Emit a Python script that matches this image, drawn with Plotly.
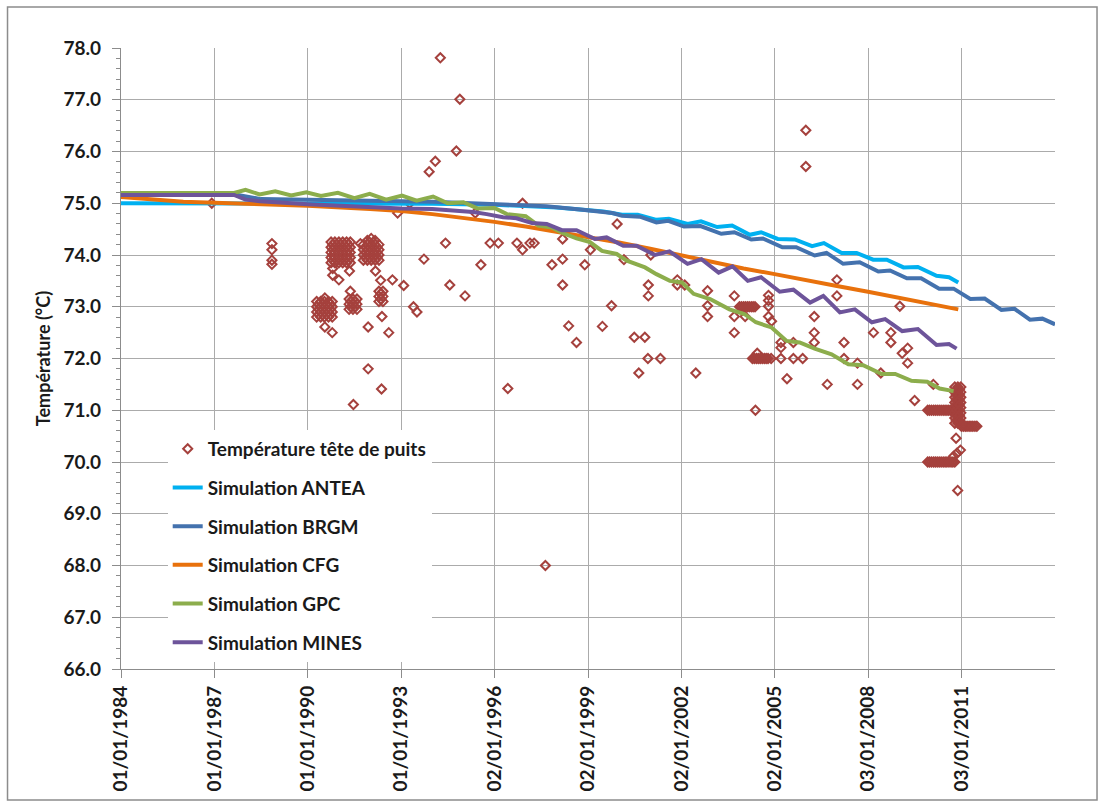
import plotly.graph_objects as go

# ---------------- DATA ----------------
tick_dates = ["1984-01-01", "1987-01-01", "1990-01-01", "1993-01-01", "1996-01-02",
              "1999-01-02", "2002-01-02", "2005-01-02", "2008-01-03", "2011-01-03"]
tick_labels = ["01/01/1984", "01/01/1987", "01/01/1990", "01/01/1993", "02/01/1996",
               "02/01/1999", "02/01/2002", "02/01/2005", "03/01/2008", "03/01/2011"]
y_ticks = [66, 67, 68, 69, 70, 71, 72, 73, 74, 75, 76, 77, 78]

antea_dates = ["1984-01-01", "1992-01-01", "1994-01-01", "1996-01-01", "1998-01-01", "1999-07-01",
               "2000-02-05", "2000-08-08", "2001-03-15", "2001-08-08", "2002-03-15", "2002-08-20",
               "2003-02-25", "2003-08-20", "2004-03-15", "2004-07-25", "2005-02-05", "2005-08-25",
               "2006-03-15", "2006-08-01", "2007-02-25", "2007-08-20", "2008-03-01", "2008-08-08",
               "2009-02-20", "2009-08-08", "2010-03-15", "2010-08-08", "2010-11-25"]
antea_vals = [75.0, 75.0, 74.99, 74.97, 74.92, 74.84,
              74.78, 74.78, 74.68, 74.70, 74.60, 74.65,
              74.54, 74.57, 74.39, 74.44, 74.31, 74.30,
              74.17, 74.23, 74.04, 74.04, 73.91, 73.91,
              73.76, 73.77, 73.60, 73.57, 73.47]

brgm_dates = ["1984-01-01", "1987-08-01", "1988-07-01", "1990-01-01", "1992-01-01", "1994-01-01",
              "1996-01-01", "1997-09-01", "1998-10-01", "1999-04-15", "1999-10-15", "2000-02-05",
              "2000-09-01", "2001-03-15", "2001-08-01", "2002-02-01", "2002-08-15", "2003-04-15",
              "2003-09-15", "2004-04-01", "2004-08-15", "2005-04-01", "2005-09-10", "2006-04-15",
              "2006-09-01", "2007-03-15", "2007-09-25", "2008-05-01", "2008-09-15", "2009-04-01",
              "2009-09-15", "2010-04-15", "2010-10-01", "2011-04-15", "2011-10-01", "2012-04-15",
              "2012-09-15", "2013-03-15", "2013-08-08", "2014-01-04"]
brgm_vals = [75.18, 75.18, 75.08, 75.06, 75.05, 75.03,
             74.99, 74.94, 74.88, 74.84, 74.81, 74.76,
             74.74, 74.63, 74.66, 74.55, 74.56, 74.41,
             74.44, 74.30, 74.32, 74.15, 74.15, 73.99,
             74.04, 73.83, 73.86, 73.68, 73.70, 73.55,
             73.55, 73.35, 73.35, 73.15, 73.16, 72.94,
             72.96, 72.75, 72.77, 72.66]

cfg_dates = ["1984-01-01", "1986-01-01", "1988-01-01", "1990-01-01", "1992-01-01", "1993-01-01",
             "1994-01-01", "1995-01-01", "1996-01-01", "1997-01-01", "1998-01-01", "1999-01-01",
             "2000-01-01", "2001-01-01", "2002-01-01", "2003-01-01", "2004-01-01", "2005-01-01",
             "2006-01-01", "2007-01-01", "2008-01-01", "2009-01-01", "2010-01-01", "2010-11-25"]
cfg_vals = [75.12, 75.03, 74.99, 74.95, 74.89, 74.85,
            74.79, 74.72, 74.64, 74.55, 74.45, 74.35,
            74.24, 74.12, 73.99, 73.86, 73.74, 73.63,
            73.51, 73.40, 73.29, 73.17, 73.05, 72.95]

gpc_dates = ["1984-01-01", "1987-08-20", "1988-01-01", "1988-06-15", "1988-12-15", "1989-06-20",
             "1989-12-15", "1990-06-05", "1990-12-20", "1991-07-01", "1991-12-28", "1992-07-08",
             "1993-01-10", "1993-07-01", "1994-01-10", "1994-07-01", "1995-01-01", "1995-06-15",
             "1996-01-01", "1996-05-25", "1997-01-01", "1997-05-30", "1997-11-01", "1998-03-15",
             "1998-08-20", "1999-01-25", "1999-06-15", "1999-12-05", "2000-04-01", "2000-11-01",
             "2001-03-15", "2001-08-20", "2002-01-08", "2002-05-25", "2002-12-05", "2003-07-20",
             "2004-01-10", "2004-05-25", "2004-11-25", "2005-05-20", "2005-10-20", "2006-04-15",
             "2006-10-30", "2007-05-15", "2007-11-05", "2008-06-10", "2008-11-15", "2009-05-25",
             "2009-11-25", "2010-04-20", "2010-10-01"]
gpc_vals = [75.20, 75.20, 75.26, 75.17, 75.23, 75.15,
            75.21, 75.14, 75.20, 75.10, 75.18, 75.07,
            75.15, 75.05, 75.13, 75.00, 75.02, 74.90,
            74.91, 74.79, 74.75, 74.57, 74.53, 74.42,
            74.32, 74.25, 74.08, 74.02, 73.89, 73.76,
            73.63, 73.50, 73.47, 73.25, 73.15, 72.95,
            72.86, 72.70, 72.60, 72.34, 72.31, 72.19,
            72.08, 71.89, 71.87, 71.70, 71.70, 71.57,
            71.55, 71.42, 71.37]

mines_dates = ["1984-01-01", "1987-08-20", "1988-01-01", "1988-06-15", "1990-01-01", "1991-06-15",
               "1993-01-01", "1994-01-01", "1994-10-10", "1995-04-25", "1995-10-01", "1996-04-10",
               "1996-09-15", "1997-03-15", "1997-09-05", "1998-03-01", "1998-08-20", "1999-03-25",
               "1999-08-08", "2000-02-20", "2000-07-25", "2001-02-25", "2001-08-15", "2002-03-15",
               "2002-08-25", "2003-03-15", "2003-08-25", "2004-02-20", "2004-07-25", "2005-03-01",
               "2005-08-08", "2006-02-20", "2006-07-25", "2007-02-05", "2007-07-30", "2008-02-15",
               "2008-07-20", "2009-02-05", "2009-08-08", "2010-03-15", "2010-08-08", "2010-11-05"]
mines_vals = [75.16, 75.16, 75.07, 75.04, 74.98, 74.94,
              74.90, 74.89, 74.86, 74.83, 74.79, 74.73,
              74.71, 74.62, 74.60, 74.48, 74.48, 74.31,
              74.34, 74.18, 74.18, 74.00, 74.07, 73.83,
              73.92, 73.66, 73.78, 73.50, 73.57, 73.29,
              73.33, 73.08, 73.21, 72.89, 72.95, 72.70,
              72.76, 72.53, 72.57, 72.26, 72.28, 72.19]

# Measured wellhead temperatures (dense groups listed point by point)
obs_dates = [
    "1986-12-01",
    "1988-11-06", "1988-11-06", "1988-11-06", "1988-11-06",
    # group 1990-10 .. 1991-05 around 74
    "1990-10-01", "1990-10-01", "1990-10-01", "1990-10-01", "1990-10-01",
    "1990-11-15", "1990-11-15", "1990-11-15", "1990-11-15", "1990-11-15",
    "1991-01-01", "1991-01-01", "1991-01-01", "1991-01-01", "1991-01-01",
    "1991-02-15", "1991-02-15", "1991-02-15", "1991-02-15", "1991-02-15",
    "1991-04-01", "1991-04-01", "1991-04-01", "1991-04-01", "1991-04-01",
    "1991-05-15", "1991-05-15", "1991-05-15", "1991-05-15", "1991-05-15",
    "1990-10-22", "1990-10-22", "1990-10-22", "1990-10-22",
    "1990-12-08", "1990-12-08", "1990-12-08", "1990-12-08",
    "1991-01-23", "1991-01-23", "1991-01-23", "1991-01-23",
    "1991-03-08", "1991-03-08", "1991-03-08", "1991-03-08",
    "1991-04-23", "1991-04-23", "1991-04-23", "1991-04-23",
    "1990-10-20", "1990-10-20", "1991-01-01", "1991-05-05", "1991-05-15",
    # group 1990 around 73
    "1990-04-15", "1990-04-15", "1990-04-15", "1990-04-15",
    "1990-06-01", "1990-06-01", "1990-06-01", "1990-06-01",
    "1990-07-15", "1990-07-15", "1990-07-15", "1990-07-15",
    "1990-09-01", "1990-09-01", "1990-09-01", "1990-09-01",
    "1990-10-15", "1990-10-15", "1990-10-15", "1990-10-15",
    "1990-05-08", "1990-05-08", "1990-05-08",
    "1990-06-23", "1990-06-23", "1990-06-23",
    "1990-08-08", "1990-08-08", "1990-08-08",
    "1990-09-23", "1990-09-23", "1990-09-23",
    "1990-07-20", "1990-07-20", "1990-10-15",
    # group 1991 around 73
    "1991-05-01", "1991-05-01", "1991-05-01",
    "1991-06-15", "1991-06-15", "1991-06-15",
    "1991-08-01", "1991-08-01", "1991-08-01",
    "1991-05-23", "1991-05-23", "1991-07-08", "1991-07-08",
    # group 1991-10 .. 1992-04 around 74
    "1991-10-15", "1991-10-15", "1991-10-15", "1991-10-15",
    "1991-12-01", "1991-12-01", "1991-12-01", "1991-12-01",
    "1992-01-15", "1992-01-15", "1992-01-15", "1992-01-15",
    "1992-03-01", "1992-03-01", "1992-03-01", "1992-03-01",
    "1992-04-15", "1992-04-15", "1992-04-15", "1992-04-15",
    "1991-11-08", "1991-11-08", "1991-11-08",
    "1991-12-23", "1991-12-23", "1991-12-23", "1991-12-23",
    "1992-02-08", "1992-02-08", "1992-02-08", "1992-02-08",
    "1992-03-23", "1992-03-23", "1992-03-23",
    "1992-01-15", "1991-12-01", "1992-03-01",
    "1991-09-10", "1992-03-05", "1992-05-05", "1992-09-20", "1993-01-30",
    # group 1992 around 73.2
    "1992-04-15", "1992-04-15", "1992-04-15",
    "1992-06-01", "1992-06-01", "1992-06-01",
    "1992-05-08", "1992-05-08",
    "1992-05-20", "1991-12-10", "1992-08-08", "1991-12-10", "1992-05-15", "1991-06-20",
    "1993-05-25", "1993-07-05",
    "1994-04-05", "1994-11-20", "1994-10-10", "1994-02-05", "1993-11-25", "1993-04-10",
    "1992-11-20", "1995-05-20", "1996-11-25", "1994-06-05", "1993-09-25", "1995-07-25",
    "1995-11-10", "1996-02-15", "1996-09-20", "1996-11-25", "1997-02-20", "1997-04-10",
    "1998-03-10", "1998-03-10", "1997-11-05", "1998-03-10", "1998-11-25", "1999-01-30",
    "1994-07-25", "1995-01-20", "1998-05-20", "1996-06-05", "1998-08-20", "1999-12-10",
    "1999-10-05", "1999-06-20", "2000-02-28", "2000-06-28", "2000-10-30", "2000-08-20",
    "2000-12-05", "2001-05-01", "2001-01-08", "2000-12-10", "2000-12-10", "2001-11-15",
    "2001-11-15", "2002-02-10", "1997-08-20", "2002-06-20", "2002-11-05", "2002-11-05",
    "2002-11-05", "2006-01-01", "2006-01-01", "2003-09-15", "2003-09-15", "2003-09-15",
    "2004-01-20",
    "2003-11-15", "2003-12-08", "2004-01-01", "2004-01-23", "2004-02-15", "2004-03-08",
    "2004-04-01", "2004-04-23", "2004-05-15",
    "2004-10-20", "2004-10-20", "2004-10-20", "2004-10-20", "2004-11-25",
    "2004-04-15", "2004-05-08", "2004-06-01", "2004-06-23", "2004-07-15", "2004-08-08",
    "2004-09-01", "2004-09-23", "2004-10-15", "2004-11-20",
    "2004-06-10", "2004-05-20",
    "2005-03-15", "2005-03-15", "2005-03-15", "2005-08-08", "2005-08-08", "2005-11-25",
    "2005-05-25", "2006-04-10", "2006-04-10", "2006-04-10", "2006-09-10", "2007-01-01",
    "2007-01-01", "2007-03-25", "2007-03-25", "2007-08-30", "2007-08-30", "2008-05-30",
    "2008-03-05", "2008-09-25", "2008-09-25", "2009-01-08", "2009-02-05", "2009-04-10",
    "2009-04-10", "2009-07-01", "2010-02-05",
    # 71.0 group
    "2009-12-01", "2009-12-23", "2010-01-15", "2010-02-08", "2010-03-01", "2010-03-23",
    "2010-04-15", "2010-05-08", "2010-06-01", "2010-06-23", "2010-07-15", "2010-08-05", "2010-08-25",
    # 70.0 group
    "2009-12-01", "2009-12-23", "2010-01-15", "2010-02-08", "2010-03-01", "2010-03-23",
    "2010-04-15", "2010-05-08", "2010-06-01", "2010-06-23", "2010-07-15", "2010-08-08",
    "2010-09-01", "2010-09-23", "2010-10-15",
    # late 2010 vertical group
    "2010-10-15", "2010-10-15", "2010-10-15", "2010-10-15", "2010-10-15", "2010-10-15", "2010-10-15", "2010-10-15",
    "2010-11-20", "2010-11-20", "2010-11-20", "2010-11-20", "2010-11-20", "2010-11-20", "2010-11-20", "2010-11-20",
    "2010-12-25", "2010-12-25", "2010-12-25", "2010-12-25", "2010-12-25", "2010-12-25", "2010-12-25", "2010-12-25",
    "2010-11-02", "2010-11-02", "2010-11-02", "2010-11-02", "2010-11-02", "2010-11-02", "2010-11-02",
    "2010-12-08", "2010-12-08", "2010-12-08", "2010-12-08", "2010-12-08", "2010-12-08", "2010-12-08",
    # 70.7 group
    "2011-01-01", "2011-01-23", "2011-02-15", "2011-03-08", "2011-04-01", "2011-04-23",
    "2011-05-15", "2011-06-08", "2011-07-01",
    "2010-10-30", "2010-10-01", "2010-11-10", "2010-12-20", "2010-11-18",
]
obs_vals = [
    75.0,
    74.22, 74.10, 73.90, 73.82,
    74.25, 74.15, 74.05, 73.95, 73.85,
    74.25, 74.15, 74.05, 73.95, 73.85,
    74.25, 74.15, 74.05, 73.95, 73.85,
    74.25, 74.15, 74.05, 73.95, 73.85,
    74.25, 74.15, 74.05, 73.95, 73.85,
    74.25, 74.15, 74.05, 73.95, 73.85,
    74.20, 74.10, 74.00, 73.90,
    74.20, 74.10, 74.00, 73.90,
    74.20, 74.10, 74.00, 73.90,
    74.20, 74.10, 74.00, 73.90,
    74.20, 74.10, 74.00, 73.90,
    73.74, 73.61, 73.52, 73.69, 73.30,
    73.10, 73.00, 72.90, 72.80,
    73.10, 73.00, 72.90, 72.80,
    73.10, 73.00, 72.90, 72.80,
    73.10, 73.00, 72.90, 72.80,
    73.10, 73.00, 72.90, 72.80,
    73.05, 72.95, 72.85,
    73.05, 72.95, 72.85,
    73.05, 72.95, 72.85,
    73.05, 72.95, 72.85,
    73.17, 72.61, 72.50,
    73.15, 73.05, 72.95,
    73.15, 73.05, 72.95,
    73.15, 73.05, 72.95,
    73.10, 73.00, 73.10, 73.00,
    74.20, 74.10, 74.00, 73.90,
    74.20, 74.10, 74.00, 73.90,
    74.20, 74.10, 74.00, 73.90,
    74.20, 74.10, 74.00, 73.90,
    74.20, 74.10, 74.00, 73.90,
    74.15, 74.05, 73.95,
    74.25, 74.15, 74.05, 73.95,
    74.25, 74.15, 74.05, 73.95,
    74.15, 74.05, 73.95,
    74.32, 74.28, 74.28,
    74.22, 73.69, 73.51, 73.52, 73.41,
    73.30, 73.20, 73.10,
    73.30, 73.20, 73.10,
    73.25, 73.15,
    72.81, 72.61, 72.50, 71.80, 71.41, 71.11,
    73.00, 72.90,
    77.81, 77.01, 76.01, 75.81, 75.61, 75.00,
    74.81, 74.81, 75.00, 74.23, 73.92, 73.81,
    74.23, 74.23, 74.23, 74.10, 74.23, 74.23,
    74.31, 73.92, 73.81, 73.42, 73.81, 74.10,
    73.42, 73.21, 72.63, 71.42, 72.31, 74.60,
    73.02, 72.62, 73.91, 72.41, 72.41, 71.72,
    72.00, 72.00, 74.00, 73.42, 73.21, 73.52,
    73.42, 73.42, 68.00, 71.72, 73.31, 73.02,
    72.81, 76.41, 75.71, 73.21, 72.81, 72.50,
    72.81,
    73.00, 73.00, 73.00, 73.00, 73.00, 73.00,
    73.00, 73.00, 73.00,
    73.22, 73.12, 73.01, 72.81, 72.72,
    72.00, 72.00, 72.00, 72.00, 72.00, 72.00,
    72.00, 72.00, 72.00, 72.00,
    72.10, 71.00,
    72.31, 72.21, 72.00, 72.31, 72.00, 72.00,
    71.61, 72.81, 72.50, 72.31, 71.50, 73.52,
    73.21, 72.31, 72.00, 71.91, 71.50, 71.72,
    72.50, 72.50, 72.31, 73.01, 72.10, 72.20,
    71.91, 71.19, 71.50,
    71.0, 71.0, 71.0, 71.0, 71.0, 71.0,
    71.0, 71.0, 71.0, 71.0, 71.0, 71.0, 71.0,
    70.0, 70.0, 70.0, 70.0, 70.0, 70.0,
    70.0, 70.0, 70.0, 70.0, 70.0, 70.0,
    70.0, 70.0, 70.0,
    71.45, 71.35, 71.25, 71.15, 71.05, 70.95, 70.85, 70.75,
    71.45, 71.35, 71.25, 71.15, 71.05, 70.95, 70.85, 70.75,
    71.45, 71.35, 71.25, 71.15, 71.05, 70.95, 70.85, 70.75,
    71.40, 71.30, 71.20, 71.10, 71.00, 70.90, 70.80,
    71.40, 71.30, 71.20, 71.10, 71.00, 70.90, 70.80,
    70.69, 70.69, 70.69, 70.69, 70.69, 70.69,
    70.69, 70.69, 70.69,
    70.46, 70.11, 70.17, 70.23, 69.45,
]

# ---------------- FIGURE ----------------
FONT = "Lato"
BOLD = dict(family=FONT, size=19, color="#1a1a1a", weight="bold")

fig = go.Figure()
fig.add_trace(go.Scatter(x=obs_dates, y=obs_vals, mode="markers", name="Température tête de puits",
                         legendgroup="a",
                         marker=dict(symbol="diamond-open", size=7, color="#A5413D",
                                     line=dict(width=2, color="#A5413D"))))
series = [("Simulation ANTEA", antea_dates, antea_vals, "#00B0F0"),
          ("Simulation BRGM", brgm_dates, brgm_vals, "#4472AE"),
          ("Simulation CFG", cfg_dates, cfg_vals, "#E8710C"),
          ("Simulation GPC", gpc_dates, gpc_vals, "#8CAD4C"),
          ("Simulation MINES", mines_dates, mines_vals, "#6D549A")]
for i, (nm, xd, yv, col) in enumerate(series):
    fig.add_trace(go.Scatter(x=xd, y=yv, mode="lines", name=nm, legendgroup="g%d" % i,
                             line=dict(color=col, width=4)))

fig.update_layout(
    width=1105, height=803,
    margin=dict(l=121, r=50, t=48, b=134),
    paper_bgcolor="white", plot_bgcolor="white",
    font=dict(family=FONT, size=19, color="#1a1a1a"),
    showlegend=True,
    legend=dict(x=0.05, y=0.385, xanchor="left", yanchor="top", bgcolor="white",
                font=BOLD, tracegroupgap=11, itemwidth=30,
                entrywidth=255, entrywidthmode="pixels"),
    xaxis=dict(type="date", range=["1984-01-01", "2014-01-03"],
               tickvals=tick_dates, ticktext=tick_labels, tickangle=-90,
               tickfont=BOLD, showgrid=True, gridcolor="#ABABAB", gridwidth=1.3,
               showline=True, linecolor="#8C8C8C", linewidth=1.3,
               ticks="outside", ticklen=8, tickcolor="#8C8C8C", zeroline=False),
    yaxis=dict(range=[66, 78], tickvals=y_ticks, tickformat=".1f",
               tickfont=BOLD, showgrid=True, gridcolor="#ABABAB", gridwidth=1.3,
               showline=True, linecolor="#8C8C8C", linewidth=1.3,
               ticks="outside", ticklen=8, tickcolor="#8C8C8C", zeroline=False,
               ticklabelstandoff=7,
               minor=dict(dtick=0.2, ticks="outside", ticklen=4, tickcolor="#8C8C8C", showgrid=False),
               title=dict(text="Température (°C)", standoff=8,
                          font=dict(family=FONT, size=18, color="#1a1a1a", weight="bold"))),
    shapes=[dict(type="rect", xref="paper", yref="paper", x0=-0.1215, x1=1.045, y0=-0.211, y1=1.066,
                 line=dict(color="#8C8C8C", width=1.5), fillcolor="rgba(0,0,0,0)", layer="below")],
)

fig.write_html("out.html")
